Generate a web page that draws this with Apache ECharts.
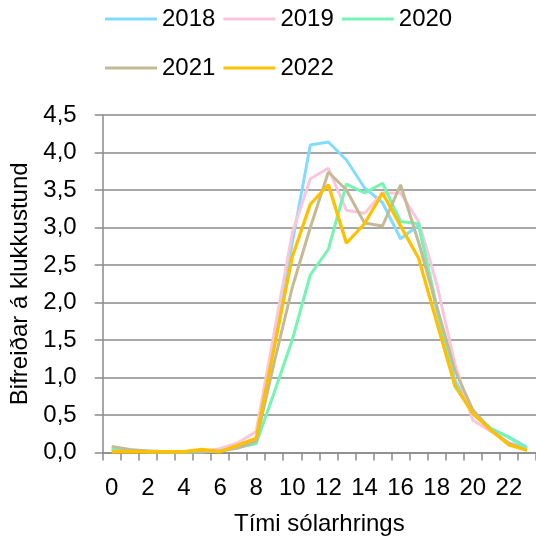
<!DOCTYPE html>
<html>
<head>
<meta charset="utf-8">
<script src="https://cdn.jsdelivr.net/npm/echarts@6/dist/echarts.min.js"></script>
<style>
html,body{margin:0;padding:0;background:#fff;}
#c{width:536px;height:543px;}
</style>
</head>
<body>
<div id="c"></div>
<script>
const hours = ['0','1','2','3','4','5','6','7','8','9','10','11','12','13','14','15','16','17','18','19','20','21','22','23'];
const yTicks = [0, 0.5, 1, 1.5, 2, 2.5, 3, 3.5, 4, 4.5];
const names = ['2018','2019','2020','2021','2022'];
const v2018 = [0.05,0.03,0.02,0.01,0.01,0.01,0.03,0.07,0.12,1.45,2.80,4.10,4.14,3.90,3.53,3.33,2.85,3.03,1.90,0.97,0.52,0.32,0.21,0.07];
const v2019 = [0.04,0.02,0.01,0.01,0.01,0.02,0.05,0.13,0.28,1.60,2.93,3.65,3.79,3.23,3.19,3.46,3.46,3.08,2.25,1.19,0.43,0.28,0.13,0.05];
const v2020 = [0.04,0.02,0.01,0.01,0.01,0.01,0.02,0.07,0.12,0.80,1.50,2.37,2.71,3.58,3.46,3.59,3.08,3.05,1.95,0.88,0.54,0.32,0.20,0.05];
const v2021 = [0.08,0.04,0.02,0.01,0.01,0.01,0.02,0.06,0.15,1.20,2.20,3.00,3.74,3.50,3.06,3.02,3.57,2.80,1.95,1.10,0.57,0.30,0.12,0.03];
const v2022 = [0.01,0.01,0.01,0.01,0.01,0.04,0.01,0.10,0.19,1.40,2.61,3.31,3.57,2.79,3.05,3.46,3.02,2.59,1.74,0.90,0.52,0.30,0.10,0.03];
const values = [v2018, v2019, v2020, v2021, v2022];
const colors = ['#82DCFF', '#F9C6DE', '#74F5B2', '#C4BB96', '#FFC000'];
const widths = [3, 3, 3, 3, 3.3];

const FONT = 'Liberation Sans';
const FS = 24;
const chart = echarts.init(document.getElementById('c'), null, {renderer: 'canvas'});
const legendCommon = {
  left: 100, itemWidth: 52, itemHeight: 3, itemGap: 8, icon: 'rect',
  textStyle: {fontFamily: FONT, fontSize: FS, color: '#000'}
};
chart.setOption({
  animation: false,
  color: colors,
  legend: [
    Object.assign({}, legendCommon, {top: 2, data: names.slice(0, 3)}),
    Object.assign({}, legendCommon, {top: 51, data: names.slice(3)})
  ],
  grid: {left: 102.7, right: 0, top: 115, bottom: 90.5, containLabel: false},
  xAxis: {
    type: 'category', data: hours, boundaryGap: true,
    name: 'Tími sólarhrings', nameLocation: 'middle', nameGap: 60,
    nameTextStyle: {fontFamily: FONT, fontSize: FS, color: '#000'},
    axisLine: {lineStyle: {color: '#8a8a8a', width: 1.5}},
    axisTick: {show: true, interval: 0, length: 8, lineStyle: {color: '#8a8a8a', width: 1.5}},
    axisLabel: {interval: 1, margin: 24, fontFamily: FONT, fontSize: FS, color: '#000'},
    splitLine: {show: false}
  },
  yAxis: {
    type: 'value', min: yTicks[0], max: yTicks[yTicks.length - 1], interval: 0.5,
    name: 'Bifreiðar á klukkustund', nameLocation: 'middle', nameGap: 66, nameRotate: 90,
    nameTextStyle: {fontFamily: FONT, fontSize: FS, color: '#000'},
    axisLine: {show: true, lineStyle: {color: '#8a8a8a', width: 1.5}},
    axisTick: {show: true, length: 8, lineStyle: {color: '#8a8a8a', width: 1.5}},
    axisLabel: {margin: 26, fontFamily: FONT, fontSize: FS, color: '#000',
      formatter: v => v.toFixed(1).replace('.', ',')},
    splitLine: {show: true, lineStyle: {color: '#8a8a8a', width: 1.5}}
  },
  series: names.map((n, i) => ({
    name: n, type: 'line', data: values[i], symbol: 'none', showSymbol: false,
    lineStyle: {width: widths[i], color: colors[i]}, itemStyle: {color: colors[i]}
  }))
});
</script>
</body>
</html>
